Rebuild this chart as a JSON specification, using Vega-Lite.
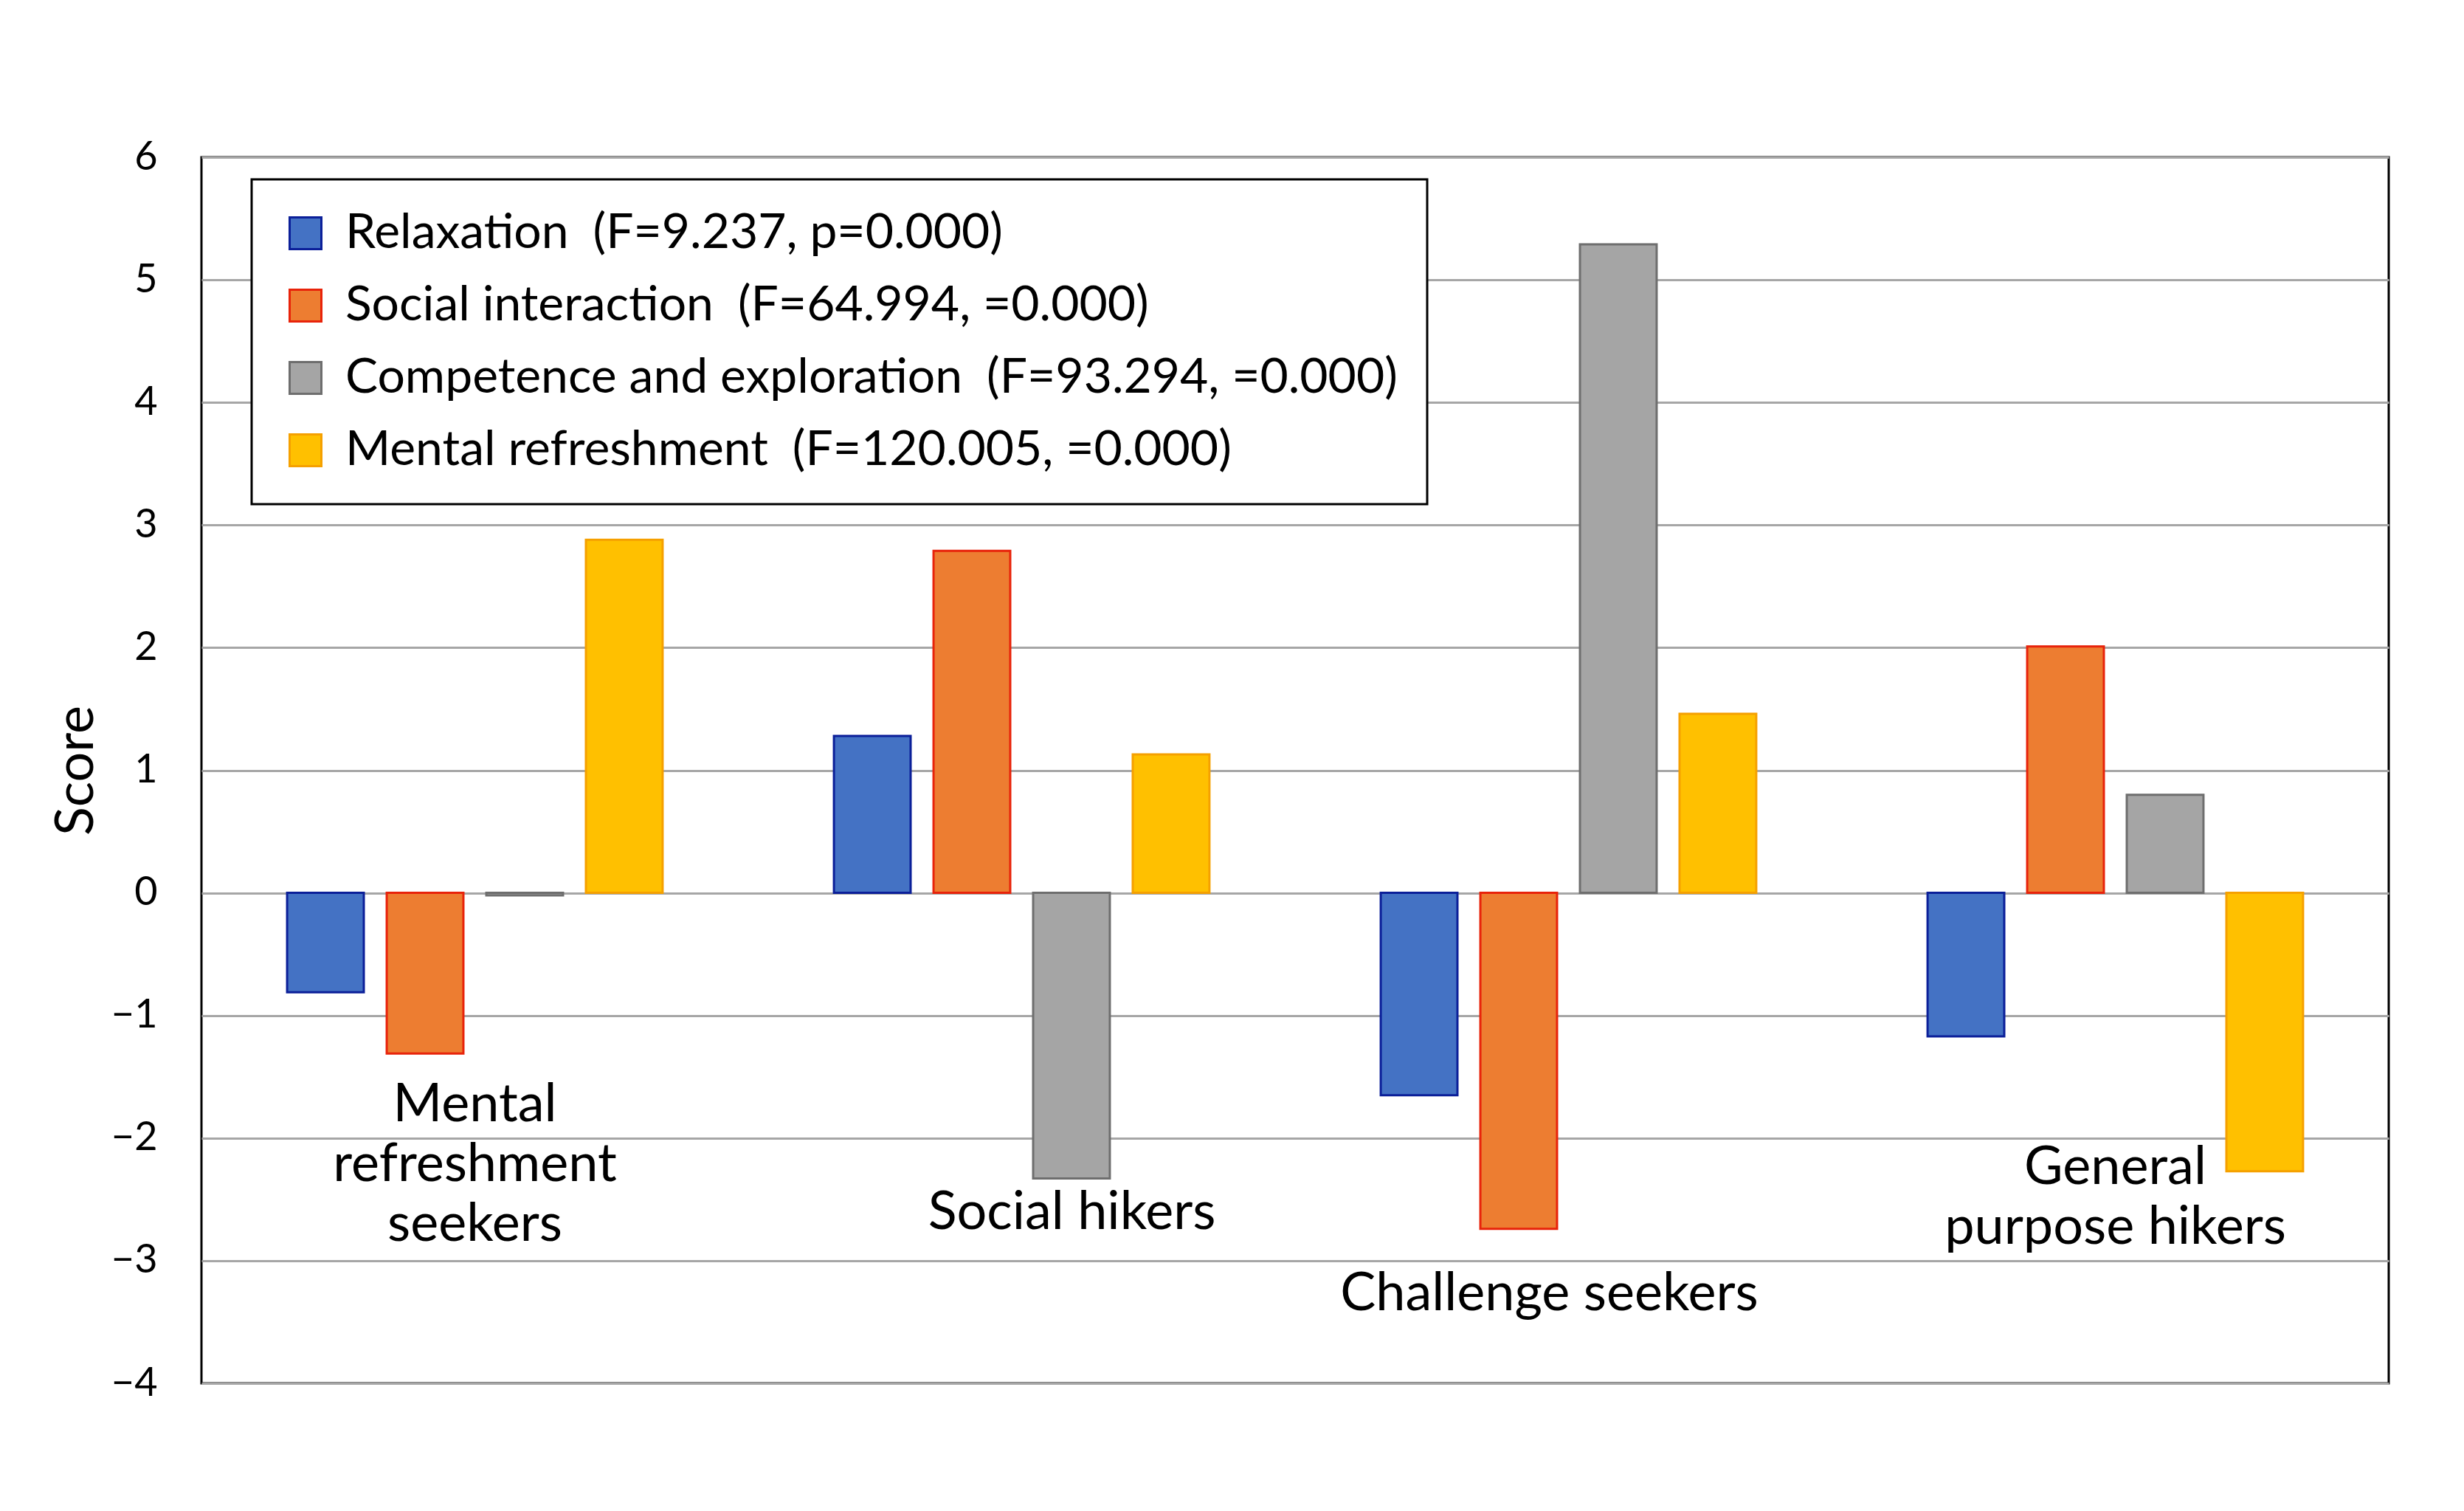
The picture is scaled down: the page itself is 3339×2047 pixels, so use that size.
{
  "$schema": "https://vega.github.io/schema/vega-lite/v6.json",
  "width": 2964,
  "height": 1661,
  "autosize": {"type": "none"},
  "padding": {"left": 273, "top": 213, "right": 102, "bottom": 173},
  "background": "white",
  "datasets": {
    "bars": [
      {"group": "Mental refreshment seekers", "series": "Relaxation\u2002(F=9.237, p=0.000)", "value": -0.81},
      {"group": "Mental refreshment seekers", "series": "Social interaction\u2002(F=64.994, =0.000)", "value": -1.31},
      {"group": "Mental refreshment seekers", "series": "Competence and exploration\u2002(F=93.294, =0.000)", "value": -0.02},
      {"group": "Mental refreshment seekers", "series": "Mental refreshment\u2002(F=120.005, =0.000)", "value": 2.88},
      {"group": "Social hikers", "series": "Relaxation\u2002(F=9.237, p=0.000)", "value": 1.28},
      {"group": "Social hikers", "series": "Social interaction\u2002(F=64.994, =0.000)", "value": 2.79},
      {"group": "Social hikers", "series": "Competence and exploration\u2002(F=93.294, =0.000)", "value": -2.33},
      {"group": "Social hikers", "series": "Mental refreshment\u2002(F=120.005, =0.000)", "value": 1.13},
      {"group": "Challenge seekers", "series": "Relaxation\u2002(F=9.237, p=0.000)", "value": -1.65},
      {"group": "Challenge seekers", "series": "Social interaction\u2002(F=64.994, =0.000)", "value": -2.74},
      {"group": "Challenge seekers", "series": "Competence and exploration\u2002(F=93.294, =0.000)", "value": 5.29},
      {"group": "Challenge seekers", "series": "Mental refreshment\u2002(F=120.005, =0.000)", "value": 1.46},
      {"group": "General purpose hikers", "series": "Relaxation\u2002(F=9.237, p=0.000)", "value": -1.17},
      {"group": "General purpose hikers", "series": "Social interaction\u2002(F=64.994, =0.000)", "value": 2.01},
      {"group": "General purpose hikers", "series": "Competence and exploration\u2002(F=93.294, =0.000)", "value": 0.8},
      {"group": "General purpose hikers", "series": "Mental refreshment\u2002(F=120.005, =0.000)", "value": -2.27}
    ],
    "labels": [
      {"group": "Mental refreshment seekers", "label": "Mental\nrefreshment\nseekers", "pos": -1.73},
      {"group": "Social hikers", "label": "Social hikers", "pos": -2.61},
      {"group": "Challenge seekers", "label": "Challenge seekers", "pos": -3.27},
      {"group": "General purpose hikers", "label": "General\npurpose hikers", "pos": -2.24}
    ]
  },
  "layer": [
    {
      "data": {"name": "bars"},
      "mark": {"type": "bar", "strokeWidth": 3},
      "encoding": {
        "x": {
          "field": "group", "type": "nominal",
          "sort": ["Mental refreshment seekers", "Social hikers", "Challenge seekers", "General purpose hikers"],
          "scale": {"paddingInner": 0, "paddingOuter": 0},
          "axis": null
        },
        "xOffset": {
          "field": "series", "type": "nominal",
          "sort": ["Relaxation\u2002(F=9.237, p=0.000)", "Social interaction\u2002(F=64.994, =0.000)", "Competence and exploration\u2002(F=93.294, =0.000)", "Mental refreshment\u2002(F=120.005, =0.000)"],
          "scale": {"paddingInner": 0.23, "paddingOuter": 0.86}
        },
        "y": {
          "field": "value", "type": "quantitative",
          "scale": {"domain": [-4, 6], "nice": false},
          "axis": {
            "title": "Score",
            "values": [-4, -3, -2, -1, 0, 1, 2, 3, 4, 5, 6],
            "format": "d",
            "ticks": false, "domain": false, "grid": true,
            "gridColor": "#A6A6A6", "gridWidth": 3,
            "labelFont": "Lato", "labelFontSize": 54, "labelColor": "black", "labelPadding": 60,
            "titleFont": "Lato", "titleFontSize": 72, "titleFontWeight": "normal", "titleColor": "black", "titlePadding": 10
          }
        },
        "fill": {
          "field": "series", "type": "nominal",
          "scale": {
            "domain": ["Relaxation\u2002(F=9.237, p=0.000)", "Social interaction\u2002(F=64.994, =0.000)", "Competence and exploration\u2002(F=93.294, =0.000)", "Mental refreshment\u2002(F=120.005, =0.000)"],
            "range": ["#4472C4", "#ED7D31", "#A5A5A5", "#FFC000"]
          },
          "legend": {"orient": "none", "legendX": 68, "legendY": 30, "title": null}
        },
        "stroke": {
          "field": "series", "type": "nominal",
          "scale": {
            "domain": ["Relaxation\u2002(F=9.237, p=0.000)", "Social interaction\u2002(F=64.994, =0.000)", "Competence and exploration\u2002(F=93.294, =0.000)", "Mental refreshment\u2002(F=120.005, =0.000)"],
            "range": ["#0B1F99", "#E8230A", "#6E6E6E", "#F5A000"]
          },
          "legend": {"orient": "none", "legendX": 68, "legendY": 30, "title": null}
        }
      }
    },
    {
      "data": {"name": "labels"},
      "transform": [{"filter": "datum.group === 'Mental refreshment seekers' || datum.group === 'General purpose hikers'"}],
      "mark": {"type": "text", "font": "Lato", "fontSize": 72, "lineBreak": "\n", "lineHeight": 81, "align": "center", "baseline": "middle", "color": "black"},
      "encoding": {
        "x": {"field": "group", "type": "nominal", "sort": ["Mental refreshment seekers", "Social hikers", "Challenge seekers", "General purpose hikers"]},
        "y": {"field": "pos", "type": "quantitative"},
        "text": {"field": "label", "type": "nominal"}
      }
    },
    {
      "data": {"name": "labels"},
      "transform": [{"filter": "datum.group === 'Social hikers'"}],
      "mark": {"type": "text", "font": "Lato", "fontSize": 72, "lineBreak": "\n", "lineHeight": 81, "align": "center", "baseline": "middle", "color": "black", "dx": 68},
      "encoding": {
        "x": {"field": "group", "type": "nominal", "sort": ["Mental refreshment seekers", "Social hikers", "Challenge seekers", "General purpose hikers"]},
        "y": {"field": "pos", "type": "quantitative"},
        "text": {"field": "label", "type": "nominal"}
      }
    },
    {
      "data": {"name": "labels"},
      "transform": [{"filter": "datum.group === 'Challenge seekers'"}],
      "mark": {"type": "text", "font": "Lato", "fontSize": 72, "lineBreak": "\n", "lineHeight": 81, "align": "center", "baseline": "middle", "color": "black", "dx": -26},
      "encoding": {
        "x": {"field": "group", "type": "nominal", "sort": ["Mental refreshment seekers", "Social hikers", "Challenge seekers", "General purpose hikers"]},
        "y": {"field": "pos", "type": "quantitative"},
        "text": {"field": "label", "type": "nominal"}
      }
    }
  ],
  "config": {
    "view": {"stroke": "black", "strokeWidth": 3},
    "legend": {
      "labelFont": "Lato", "labelFontSize": 66, "labelColor": "black", "labelLimit": 3000,
      "symbolType": "square", "symbolSize": 1850, "symbolStrokeWidth": 3,
      "labelOffset": 21, "rowPadding": 32, "padding": 40,
      "strokeColor": "black", "strokeWidth": 3, "fillColor": "white", "direction": "vertical"
    }
  }
}
